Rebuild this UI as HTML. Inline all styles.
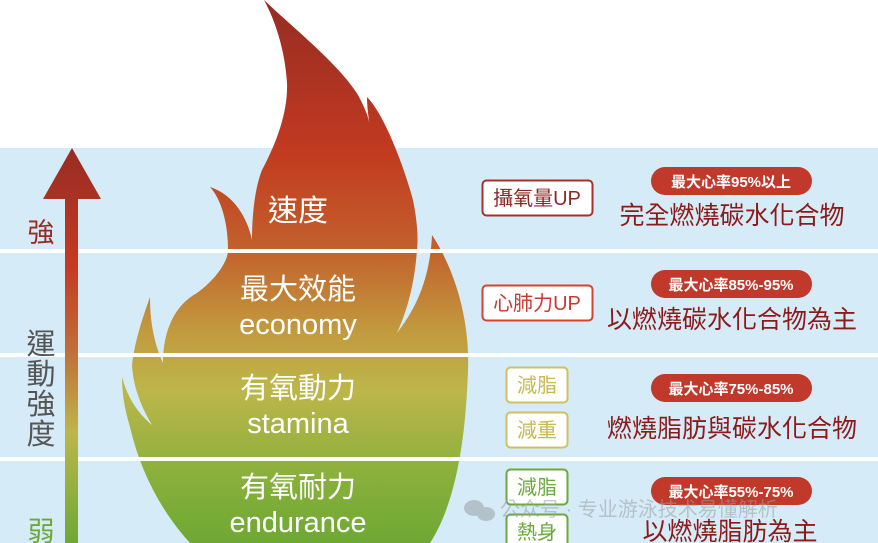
<!DOCTYPE html>
<html><head><meta charset="utf-8"><style>
body{margin:0;width:878px;height:543px;overflow:hidden;background:#fff;font-family:"Liberation Sans","Noto Sans CJK TC",sans-serif;}
svg{position:absolute;left:0;top:0}
</style></head><body>
<svg width="878" height="543" viewBox="0 0 878 543" xmlns="http://www.w3.org/2000/svg">
<defs>
<linearGradient id="fg" gradientUnits="userSpaceOnUse" x1="0" y1="0" x2="0" y2="543">
<stop offset="0" stop-color="#962c24"/>
<stop offset="0.28" stop-color="#c23a20"/>
<stop offset="0.46" stop-color="#c2612c"/>
<stop offset="0.61" stop-color="#c29a3e"/>
<stop offset="0.72" stop-color="#bdb64a"/>
<stop offset="0.87" stop-color="#8bb03c"/>
<stop offset="1" stop-color="#6ea834"/>
</linearGradient>
<linearGradient id="ag" gradientUnits="userSpaceOnUse" x1="0" y1="148" x2="0" y2="543">
<stop offset="0" stop-color="#962c24"/>
<stop offset="0.3" stop-color="#c63a22"/>
<stop offset="0.52" stop-color="#c0703a"/>
<stop offset="0.72" stop-color="#bdb64a"/>
<stop offset="1" stop-color="#6ea834"/>
</linearGradient>
</defs>
<rect x="0" y="148" width="878" height="395" fill="#d5ebf7"/>
<path fill="url(#fg)" d="M264,0 C290,25 340,65 358,95 C365,108 369,118 370,127 C368,115 367,105 367,97 C385,115 405,170 413,200 C418,225 418,240 417,250 C414,290 405,315 397,333 C415,310 430,280 432,235 C455,270 470,320 468,370 C466,430 458,500 430,543 L190,543 C160,510 140,470 130,427 C125,410 122,395 122,377 C128,400 140,415 152,425 C140,405 133,385 132,365 C135,340 142,320 150,297 C150,325 155,345 163,363 C163,330 175,305 197,293 C215,280 228,262 228,250 C228,225 222,200 210,187 C235,195 248,220 252,240 C252,210 256,185 262,170 C278,140 288,110 287,83 C285,50 275,20 264,0 Z"/>
<rect x="0" y="249" width="878" height="4" fill="#fff"/>
<rect x="0" y="353" width="878" height="4" fill="#fff"/>
<rect x="0" y="457" width="878" height="4" fill="#fff"/>
<rect x="65" y="198" width="13" height="345" fill="url(#ag)"/>
<polygon points="72,148 101,199 43,199" fill="url(#ag)"/>
<g font-family="Liberation Sans, Noto Sans CJK TC, sans-serif">
<text x="41" y="242" font-size="27" fill="#9a2a22" text-anchor="middle">強</text>
<text x="41" y="354" font-size="29" fill="#555" text-anchor="middle">運</text>
<text x="41" y="384" font-size="29" fill="#555" text-anchor="middle">動</text>
<text x="41" y="414" font-size="29" fill="#555" text-anchor="middle">強</text>
<text x="41" y="444" font-size="29" fill="#555" text-anchor="middle">度</text>
<text x="41" y="541" font-size="27" fill="#6ea834" text-anchor="middle">弱</text>
<g fill="#fff" text-anchor="middle">
<text x="298" y="221" font-size="30">速度</text>
<text x="298" y="299" font-size="29">最大效能</text>
<text x="298" y="334" font-size="29">economy</text>
<text x="298" y="398" font-size="29">有氧動力</text>
<text x="298" y="433" font-size="29">stamina</text>
<text x="298" y="497" font-size="29">有氧耐力</text>
<text x="298" y="532" font-size="29">endurance</text>
</g>
<rect x="482.5" y="180.5" width="110" height="35" rx="4" fill="#fff" stroke="#a83028" stroke-width="2"/>
<text x="537" y="205" font-size="20" fill="#8a2a22" text-anchor="middle">攝氧量UP</text>
<rect x="482.5" y="285.5" width="110" height="35" rx="4" fill="#fff" stroke="#d84030" stroke-width="2"/>
<text x="537" y="310" font-size="20" fill="#c83a30" text-anchor="middle">心肺力UP</text>
<rect x="506.5" y="367.5" width="61" height="35" rx="4" fill="#fff" stroke="#d0c060" stroke-width="2"/>
<text x="537" y="392" font-size="20" fill="#c8b850" text-anchor="middle">減脂</text>
<rect x="506.5" y="412.5" width="61" height="35" rx="4" fill="#fff" stroke="#d0c060" stroke-width="2"/>
<text x="537" y="437" font-size="20" fill="#c8b850" text-anchor="middle">減重</text>
<rect x="506.5" y="469.5" width="61" height="35" rx="4" fill="#fff" stroke="#6aaa3a" stroke-width="2"/>
<text x="537" y="494" font-size="20" fill="#6aaa3a" text-anchor="middle">減脂</text>
<rect x="506.5" y="514.5" width="61" height="35" rx="4" fill="#fff" stroke="#6aaa3a" stroke-width="2"/>
<text x="537" y="539" font-size="20" fill="#6aaa3a" text-anchor="middle">熱身</text>
<g fill="#c0392b">
<rect x="651" y="167" width="161" height="28" rx="14"/>
<rect x="651" y="270" width="161" height="28" rx="14"/>
<rect x="651" y="374" width="161" height="28" rx="14"/>
<rect x="651" y="477" width="161" height="28" rx="14"/>
</g>
<g fill="#fff" font-size="15" text-anchor="middle" font-weight="bold">
<text x="731" y="187">最大心率95%以上</text>
<text x="731" y="290">最大心率85%-95%</text>
<text x="731" y="394">最大心率75%-85%</text>
<text x="731" y="497">最大心率55%-75%</text>
</g>
<g fill="#8b1a1a" font-size="25" text-anchor="middle">
<text x="732" y="224">完全燃燒碳水化合物</text>
<text x="732" y="328">以燃燒碳水化合物為主</text>
<text x="732" y="437">燃燒脂肪與碳水化合物</text>
<text x="730" y="540">以燃燒脂肪為主</text>
</g>
<g opacity="0.55" fill="#9aa0a4">
<ellipse cx="474" cy="508" rx="10" ry="8"/>
<ellipse cx="486" cy="514" rx="9" ry="7"/>
<text x="500" y="516" font-size="20">公众号 · 专业游泳技术易懂解析</text>
</g>
</g>
</svg>
</body></html>
